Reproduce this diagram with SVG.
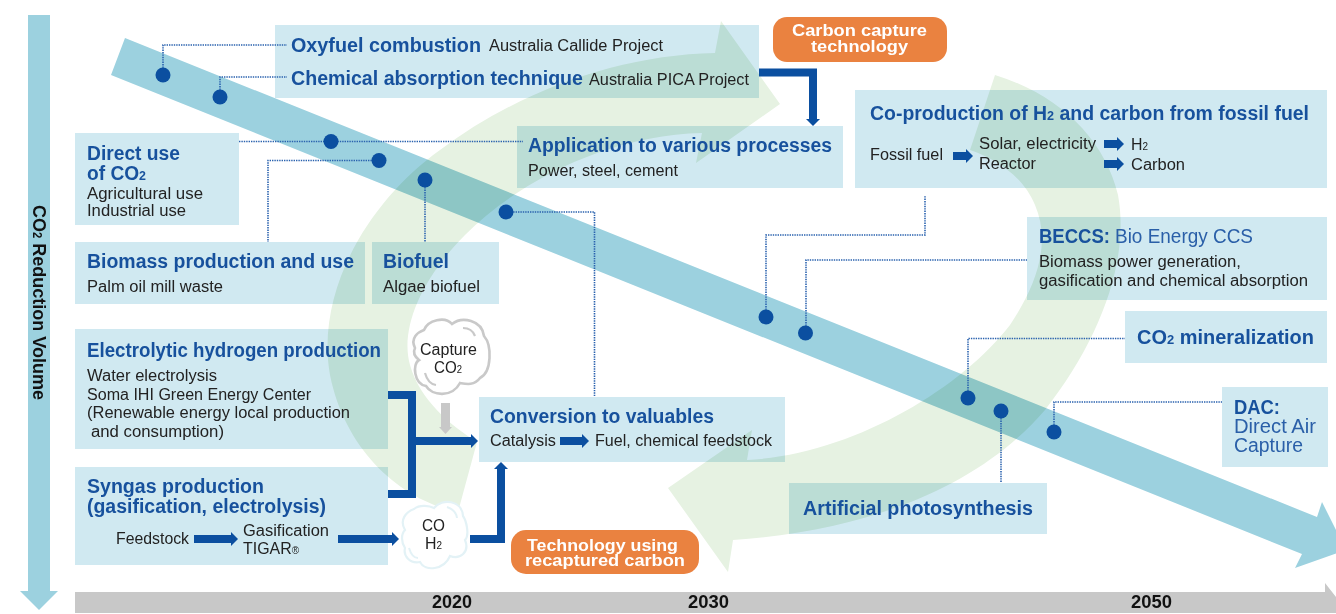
<svg xmlns="http://www.w3.org/2000/svg" width="1336" height="614" viewBox="0 0 1336 614">
<style>
text{font-family:"Liberation Sans",Arial,sans-serif;fill:#222;font-size:16px}
.t{font-weight:700;font-size:20px;fill:#17519d}
.l{font-size:19.5px;fill:#2a5fa8}
.w{font-weight:700;font-size:17px;fill:#fff}
.y{font-weight:700;font-size:18px;fill:#111}
.box{fill:#d0e9f1;mix-blend-mode:multiply}
.green{fill:#e6f2e2}
.rib{fill:#9cd1df;mix-blend-mode:multiply}
.pill{fill:#ea8240}
.dot{fill:none;stroke:#2a62ae;stroke-width:1.6;stroke-dasharray:1.4 1}
.th{fill:none;stroke:#0b4fa0;stroke-width:8}
.pt{fill:#0b4fa0}
.cl{fill:#fff;stroke:#c9c9c9;stroke-width:2.6}
.cl2{fill:#fff;stroke:#e3f2f6;stroke-width:2.2}
.cu{fill:none;stroke:#c9c9c9;stroke-width:2.2}
.cu2{fill:none;stroke:#e3f2f6;stroke-width:2}
</style>
<defs>
<marker id="ah" markerUnits="userSpaceOnUse" markerWidth="8" markerHeight="14" refX="0" refY="7" orient="auto"><path d="M0 0L7 7L0 14Z" fill="#0b4fa0"/></marker>
<marker id="ag" markerUnits="userSpaceOnUse" markerWidth="8" markerHeight="14" refX="0" refY="7" orient="auto"><path d="M0 0.500L7 7L0 13.500Z" fill="#c8c8c8"/></marker>
</defs>

<g id="cycle">
<path class="green" d="M715 53L721 21L780 104L696 163L702 133C610 135 520 180 465 235C420 280 400 330 410 365C420 400 450 425 477 442L458 512C400 500 345 450 330 375C315 290 370 200 440 150C520 90 620 55 715 53Z"/>
<path class="green" d="M995 75C1060 95 1105 140 1118 195C1130 260 1100 340 1045 410C985 480 880 530 733 540L728 572L668 488L752 430L747 460C850 455 960 390 1010 325C1040 280 1050 240 1035 205C1025 180 1000 160 970 150Z"/>
</g>
<g id="timeline">
<path class="rib" d="M125 38L1317 517L1322 502L1346 550L1295 568L1302 554L111 75Z"/>
<path fill="#9cd1df" d="M28 15H50V591H58L39 610L20 591H28Z"/>
<path fill="#c8c8c8" d="M75 592H1325V583L1336 597V613H75Z"/>
<text class="y" x="432" y="608" textLength="40" lengthAdjust="spacingAndGlyphs">2020</text>
<text class="y" x="688" y="608" textLength="41" lengthAdjust="spacingAndGlyphs">2030</text>
<text class="y" x="1131" y="608" textLength="41" lengthAdjust="spacingAndGlyphs">2050</text>
<text transform="translate(33 205) rotate(90)" style="font-weight:700;font-size:19px;fill:#111" textLength="195" lengthAdjust="spacingAndGlyphs">CO<tspan font-size="12">2</tspan> Reduction Volume</text>
</g>

<g id="node-oxyfuel">
<rect class="box" x="275" y="25" width="484" height="73"/>
<text class="t" x="291" y="52" textLength="190" lengthAdjust="spacingAndGlyphs">Oxyfuel combustion</text>
<text x="489" y="51" textLength="174" lengthAdjust="spacingAndGlyphs">Australia Callide Project</text>
<text class="t" x="291" y="85" textLength="292" lengthAdjust="spacingAndGlyphs">Chemical absorption technique</text>
<text x="589" y="85" textLength="160" lengthAdjust="spacingAndGlyphs">Australia PICA Project</text>
</g>
<g id="node-direct-use">
<rect class="box" x="75" y="133" width="164" height="92"/>
<text class="t" x="87" y="160" textLength="93" lengthAdjust="spacingAndGlyphs">Direct use</text>
<text class="t" x="87" y="180" textLength="59" lengthAdjust="spacingAndGlyphs">of CO<tspan font-size="13">2</tspan></text>
<text x="87" y="199" textLength="116" lengthAdjust="spacingAndGlyphs">Agricultural use</text>
<text x="87" y="216" textLength="99" lengthAdjust="spacingAndGlyphs">Industrial use</text>
</g>
<g id="node-biomass">
<rect class="box" x="75" y="242" width="290" height="62"/>
<text class="t" x="87" y="268" textLength="267" lengthAdjust="spacingAndGlyphs">Biomass production and use</text>
<text x="87" y="292" textLength="136" lengthAdjust="spacingAndGlyphs">Palm oil mill waste</text>
</g>
<g id="node-biofuel">
<rect class="box" x="372" y="242" width="127" height="62"/>
<text class="t" x="383" y="268" textLength="66" lengthAdjust="spacingAndGlyphs">Biofuel</text>
<text x="383" y="292" textLength="97" lengthAdjust="spacingAndGlyphs">Algae biofuel</text>
</g>
<g id="node-electrolytic">
<rect class="box" x="75" y="329" width="313" height="120"/>
<text class="t" x="87" y="357" textLength="294" lengthAdjust="spacingAndGlyphs">Electrolytic hydrogen production</text>
<text x="87" y="381" textLength="130" lengthAdjust="spacingAndGlyphs">Water electrolysis</text>
<text x="87" y="400" textLength="224" lengthAdjust="spacingAndGlyphs">Soma IHI Green Energy Center</text>
<text x="87" y="418" textLength="263" lengthAdjust="spacingAndGlyphs">(Renewable energy local production</text>
<text x="91" y="437" textLength="133" lengthAdjust="spacingAndGlyphs">and consumption)</text>
</g>
<g id="node-syngas">
<rect class="box" x="75" y="467" width="313" height="98"/>
<text class="t" x="87" y="493" textLength="177" lengthAdjust="spacingAndGlyphs">Syngas production</text>
<text class="t" x="87" y="513" textLength="239" lengthAdjust="spacingAndGlyphs">(gasification, electrolysis)</text>
<text x="116" y="544" textLength="73" lengthAdjust="spacingAndGlyphs">Feedstock</text>
<text x="243" y="536" textLength="86" lengthAdjust="spacingAndGlyphs">Gasification</text>
<text x="243" y="554" textLength="56" lengthAdjust="spacingAndGlyphs">TIGAR<tspan font-size="10">®</tspan></text>
</g>
<g id="node-conversion">
<rect class="box" x="479" y="397" width="306" height="65"/>
<text class="t" x="490" y="423" textLength="224" lengthAdjust="spacingAndGlyphs">Conversion to valuables</text>
<text x="490" y="446" textLength="66" lengthAdjust="spacingAndGlyphs">Catalysis</text>
<text x="595" y="446" textLength="177" lengthAdjust="spacingAndGlyphs">Fuel, chemical feedstock</text>
</g>
<g id="node-application">
<rect class="box" x="517" y="126" width="326" height="62"/>
<text class="t" x="528" y="152" textLength="304" lengthAdjust="spacingAndGlyphs">Application to various processes</text>
<text x="528" y="176" textLength="150" lengthAdjust="spacingAndGlyphs">Power, steel, cement</text>
</g>
<g id="node-coproduction">
<rect class="box" x="855" y="90" width="472" height="98"/>
<text class="t" x="870" y="120" textLength="439" lengthAdjust="spacingAndGlyphs">Co-production of H<tspan font-size="13">2</tspan> and carbon from fossil fuel</text>
<text x="870" y="160" textLength="73" lengthAdjust="spacingAndGlyphs">Fossil fuel</text>
<text x="979" y="149" textLength="117" lengthAdjust="spacingAndGlyphs">Solar, electricity</text>
<text x="979" y="169" textLength="57" lengthAdjust="spacingAndGlyphs">Reactor</text>
<text x="1131" y="150" textLength="17" lengthAdjust="spacingAndGlyphs">H<tspan font-size="10">2</tspan></text>
<text x="1131" y="170" textLength="54" lengthAdjust="spacingAndGlyphs">Carbon</text>
</g>
<g id="node-beccs">
<rect class="box" x="1027" y="217" width="300" height="83"/>
<text class="t" x="1039" y="243" textLength="71" lengthAdjust="spacingAndGlyphs">BECCS:</text>
<text class="l" x="1115" y="243" textLength="138" lengthAdjust="spacingAndGlyphs">Bio Energy CCS</text>
<text x="1039" y="267" textLength="202" lengthAdjust="spacingAndGlyphs">Biomass power generation,</text>
<text x="1039" y="286" textLength="269" lengthAdjust="spacingAndGlyphs">gasification and chemical absorption</text>
</g>
<g id="node-mineralization">
<rect class="box" x="1125" y="311" width="202" height="52"/>
<text class="t" x="1137" y="344" textLength="177" lengthAdjust="spacingAndGlyphs">CO<tspan font-size="13">2</tspan> mineralization</text>
</g>
<g id="node-dac">
<rect class="box" x="1222" y="387" width="106" height="80"/>
<text class="t" x="1234" y="414" textLength="46" lengthAdjust="spacingAndGlyphs">DAC:</text>
<text class="l" x="1234" y="433" textLength="82" lengthAdjust="spacingAndGlyphs">Direct Air</text>
<text class="l" x="1234" y="452" textLength="69" lengthAdjust="spacingAndGlyphs">Capture</text>
</g>
<g id="node-photosynthesis">
<rect class="box" x="789" y="483" width="258" height="51"/>
<text class="t" x="803" y="515" textLength="230" lengthAdjust="spacingAndGlyphs">Artificial photosynthesis</text>
</g>
<g id="node-carbon-capture">
<rect class="pill" x="773" y="17" width="174" height="45" rx="14"/>
<text class="w" x="792" y="36" textLength="135" lengthAdjust="spacingAndGlyphs">Carbon capture</text>
<text class="w" x="811" y="52" textLength="97" lengthAdjust="spacingAndGlyphs">technology</text>
</g>
<g id="node-recaptured">
<rect class="pill" x="511" y="530" width="188" height="44" rx="15"/>
<text class="w" x="527" y="551" textLength="151" lengthAdjust="spacingAndGlyphs">Technology using</text>
<text class="w" x="525" y="566" textLength="160" lengthAdjust="spacingAndGlyphs">recaptured carbon</text>
</g>

<g id="connectors">
<path class="dot" d="M163 75V45H287"/>
<path class="dot" d="M220 97V77H287"/>
<path class="dot" d="M239 141.500H523"/>
<path class="dot" d="M379 160.500H268V242"/>
<path class="dot" d="M425 180V242"/>
<path class="dot" d="M506 212H594.500V397"/>
<path class="dot" d="M766 317V235H925V196"/>
<path class="dot" d="M806 333V260H1027"/>
<path class="dot" d="M968 398V338.500H1125"/>
<path class="dot" d="M1001 411V483"/>
<path class="dot" d="M1054 432V402H1222"/>
<path class="th" d="M759 72.500H813V119" marker-end="url(#ah)"/>
<path class="th" d="M388 395H412V494H388"/>
<path class="th" d="M412 441H471" marker-end="url(#ah)"/>
<path class="th" d="M470 539H501V469" marker-end="url(#ah)"/>
<path class="th" d="M194 539H231" marker-end="url(#ah)"/>
<path class="th" d="M338 539H392" marker-end="url(#ah)"/>
<path class="th" d="M560 441H582" marker-end="url(#ah)"/>
<path class="th" d="M953 156H966" marker-end="url(#ah)"/>
<path class="th" d="M1104 144H1117" marker-end="url(#ah)"/>
<path class="th" d="M1104 164H1117" marker-end="url(#ah)"/>
<path d="M445.500 403V427" fill="none" stroke="#c8c8c8" stroke-width="9" marker-end="url(#ag)"/>
</g>
<g id="markers" class="pt">
<circle cx="163" cy="75" r="7.500"/><circle cx="220" cy="97" r="7.500"/><circle cx="331" cy="141.500" r="7.500"/><circle cx="379" cy="160.500" r="7.500"/><circle cx="425" cy="180" r="7.500"/><circle cx="506" cy="212" r="7.500"/><circle cx="766" cy="317" r="7.500"/><circle cx="805.500" cy="333" r="7.500"/><circle cx="968" cy="398" r="7.500"/><circle cx="1001" cy="411" r="7.500"/><circle cx="1054" cy="432" r="7.500"/>
</g>

<g id="node-capture-cloud">
<path class="cl" d="M415 348C410 338 418 332 424 330C428 320 445 316 452 324C462 316 482 320 484 336C492 345 492 372 480 378C474 386 466 384 460 383C452 398 432 396 426 386C414 384 412 364 419 360C414 356 413 352 415 348Z"/>
<path class="cu" d="M463 328Q472 328 475 336M425 373Q428 384 436 385"/>
<text x="420" y="355" textLength="57" lengthAdjust="spacingAndGlyphs">Capture</text>
<text x="434" y="373" textLength="28" lengthAdjust="spacingAndGlyphs">CO<tspan font-size="10">2</tspan></text>
</g>
<g id="node-syngas-cloud">
<path class="cl2" d="M405 530C399 520 406 512 414 509C420 504 430 506 434 508C442 498 462 500 463 516C466 520 470 535 465 540C470 552 460 560 450 556C444 570 425 572 420 562C410 564 403 556 405 548C401 542 401 534 405 530Z"/>
<path class="cu2" d="M447 507Q456 510 457 518M409 548Q412 558 418 558"/>
<text x="422" y="531" textLength="23" lengthAdjust="spacingAndGlyphs">CO</text>
<text x="425" y="549" textLength="17" lengthAdjust="spacingAndGlyphs">H<tspan font-size="10">2</tspan></text>
</g>
</svg>
